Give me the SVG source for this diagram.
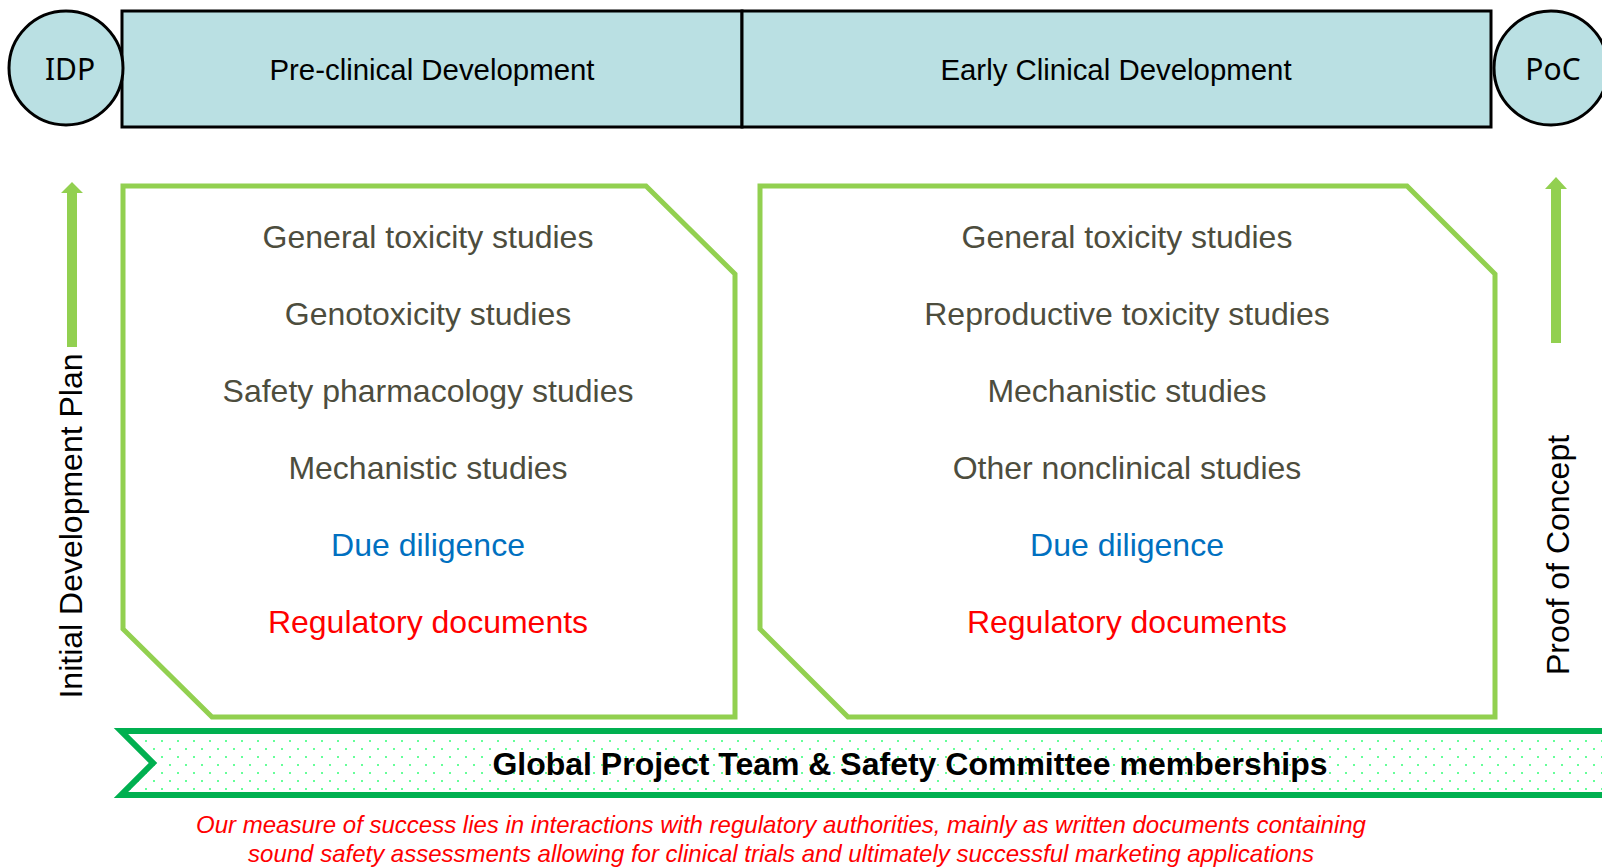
<svg xmlns="http://www.w3.org/2000/svg" width="1602" height="867" viewBox="0 0 1602 867">
  <defs>
    <pattern id="dots" patternUnits="userSpaceOnUse" x="0" y="0" width="16" height="16">
      <rect x="1" y="4" width="2" height="2" fill="#66FF99"/>
      <rect x="9" y="12" width="2" height="2" fill="#66FF99"/>
    </pattern>
    <style>
      .phase { fill: #BAE0E3; stroke: #000; stroke-width: 3; }
      .head { font-family: "Liberation Sans", Arial, sans-serif; font-size: 29.4px; fill: #000; text-anchor: middle; }
      .circ { font-family: "Noto Sans", "Liberation Sans", sans-serif; font-size: 30px; fill: #000; text-anchor: middle; }
      .box { fill: #fff; stroke: #92D050; stroke-width: 5; stroke-linejoin: miter; }
      .item { font-family: "Liberation Sans", Arial, sans-serif; font-size: 32px; text-anchor: middle; fill: #4D4D3D; }
      .blue { fill: #0070C0; }
      .red { fill: #FF0000; }
      .arrow { fill: #92D050; }
      .side { font-family: "Liberation Sans", Arial, sans-serif; font-size: 32px; fill: #000; text-anchor: middle; }
      .banner { fill: url(#dots); stroke: #00B050; stroke-width: 6; }
      .btext { font-family: "Liberation Sans", Arial, sans-serif; font-size: 32px; font-weight: bold; fill: #000; text-anchor: middle; }
      .note { font-family: "Liberation Sans", Arial, sans-serif; font-size: 24px; font-style: italic; fill: #FF0000; text-anchor: middle; }
    </style>
  </defs>
  <rect width="1602" height="867" fill="#fff"/>

  <g id="phase-preclinical">
    <rect class="phase" x="122" y="11" width="620" height="116"/>
    <text class="head" x="432" y="80">Pre-clinical Development</text>
  </g>
  <g id="phase-early-clinical">
    <rect class="phase" x="742" y="11" width="749" height="116"/>
    <text class="head" x="1116" y="80">Early Clinical Development</text>
  </g>
  <g id="idp">
    <circle class="phase" cx="66" cy="68" r="57"/>
    <text class="circ" x="70" y="80">IDP</text>
  </g>
  <g id="poc">
    <circle class="phase" cx="1551" cy="68" r="57"/>
    <text class="circ" x="1553" y="80">PoC</text>
  </g>

  <g id="preclinical-box">
    <polygon class="box" points="123,186 646,186 735,274 735,717 212,717 123,629"/>
    <text class="item" x="428" y="248">General toxicity studies</text>
    <text class="item" x="428" y="325">Genotoxicity studies</text>
    <text class="item" x="428" y="402">Safety pharmacology studies</text>
    <text class="item" x="428" y="479">Mechanistic studies</text>
    <text class="item blue" x="428" y="556">Due diligence</text>
    <text class="item red" x="428" y="633">Regulatory documents</text>
  </g>
  <g id="clinical-box">
    <polygon class="box" points="760,186 1407,186 1495,274 1495,717 848,717 760,629"/>
    <text class="item" x="1127" y="248">General toxicity studies</text>
    <text class="item" x="1127" y="325">Reproductive toxicity studies</text>
    <text class="item" x="1127" y="402">Mechanistic studies</text>
    <text class="item" x="1127" y="479">Other nonclinical studies</text>
    <text class="item blue" x="1127" y="556">Due diligence</text>
    <text class="item red" x="1127" y="633">Regulatory documents</text>
  </g>

  <g id="connectors">
    <polygon class="arrow" points="67,347 67,193 61,193 72,182 83,193 77,193 77,347"/>
    <polygon class="arrow" points="1551,343 1551,189 1545,189 1556,177 1567,189 1561,189 1561,343"/>
  </g>

  <g id="initial-development-plan">
    <text class="side" transform="translate(82,526) rotate(-90)" x="0" y="0">Initial Development Plan</text>
  </g>
  <g id="proof-of-concept">
    <text class="side" transform="translate(1569,555) rotate(-90)" x="0" y="0">Proof of Concept</text>
  </g>

  <g id="membership-banner">
    <polygon points="121,731 1612,731 1612,795 121,795 153,763" fill="#fff"/>
    <polygon class="banner" points="121,731 1612,731 1612,795 121,795 153,763"/>
    <text class="btext" x="910" y="775">Global Project Team &amp; Safety Committee memberships</text>
  </g>

  <g id="success-note">
    <text class="note" x="781" y="833">Our measure of success lies in interactions with regulatory authorities, mainly as written documents containing</text>
    <text class="note" x="781" y="862">sound safety assessments allowing for clinical trials and ultimately successful marketing applications</text>
  </g>
</svg>
